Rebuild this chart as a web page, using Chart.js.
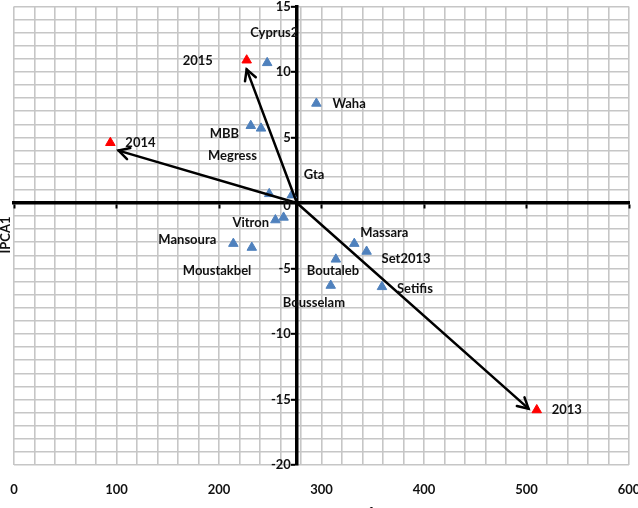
<!DOCTYPE html>
<html><head><meta charset="utf-8">
<script src="https://cdn.jsdelivr.net/npm/chart.js@4.4.1/dist/chart.umd.min.js"></script>
<style>html,body{margin:0;padding:0;overflow:hidden;background:#fff}#wrap{width:638px;height:524px;position:relative}</style>
</head><body><div id="wrap"><canvas id="c" width="638" height="524"></canvas></div>
<script>
// ---- data ----
const siteNames = ['Cyprus2','Waha','MBB','Megress','','Gta','Vitron','','Mansoura','Moustakbel','Massara','Set2013','Boutaleb','Bousselam','Setifis'];
const siteX = [247, 295, 231, 241, 249, 271, 255, 263, 214, 232, 332, 344, 314, 309, 359];
const siteY = [10.7, 7.6, 5.9, 5.7, 0.7, 0.6, -1.3, -1.1, -3.1, -3.4, -3.1, -3.7, -4.3, -6.3, -6.4];
const yearNames = ['2015','2014','2013'];
const yearX = [227, 94, 510];
const yearY = [10.9, 4.6, -15.8];
const arrowTipX = [227, 102, 502];
const arrowTipY = [10.2, 4.0, -15.7];
const originX = 276, originY = 0;
const xTickLabels = [0, 100, 200, 300, 400, 500, 600];
const yTickLabels = [15, 10, 5, 0, -5, -10, -15, -20];
const yTitle = 'IPCA1';
const xTitle = "Nombre d'épis/m²";

// ---- label placement (pixel offsets from points, style only) ----
const siteLabelDx = [-17, 16, -41, -53, 0, 12, -43, 0, -75, -69, 6, 15, -29, -48, 15];
const siteLabelDy = [-30, 0, 8, 27, 0, -20, 3, 0, -4, 23, -11, 7, 11, 17, 2];
const yearLabelDx = [-64, 15, 15];
const yearLabelDy = [1, 0, 0];

const FONT = 'bold 13px Lato, "Open Sans", sans-serif';

const overlay = {
  id: 'overlay',
  afterDatasetsDraw(chart) {
    const ctx = chart.ctx, xs = chart.scales.x, ys = chart.scales.y;
    ctx.save();
    // arrows
    ctx.strokeStyle = '#000'; ctx.lineWidth = 2.5; ctx.lineCap = 'round';
    const ox = xs.getPixelForValue(originX), oy = ys.getPixelForValue(originY);
    for (let i = 0; i < arrowTipX.length; i++) {
      const tx = xs.getPixelForValue(arrowTipX[i]), ty = ys.getPixelForValue(arrowTipY[i]);
      ctx.beginPath(); ctx.moveTo(ox, oy); ctx.lineTo(tx, ty); ctx.stroke();
      const a = Math.atan2(ty - oy, tx - ox), L = 12, w = 0.5;
      ctx.beginPath();
      ctx.moveTo(tx - L * Math.cos(a - w), ty - L * Math.sin(a - w));
      ctx.lineTo(tx, ty);
      ctx.lineTo(tx - L * Math.cos(a + w), ty - L * Math.sin(a + w));
      ctx.stroke();
    }
    // y tick labels, left of the crossing axis
    ctx.fillStyle = '#111'; ctx.font = FONT; ctx.textAlign = 'right'; ctx.textBaseline = 'middle';
    yTickLabels.forEach(v => ctx.fillText(String(v), ox - 6, ys.getPixelForValue(v) + (v === 0 ? 3 : 0)));
    // labels
    ctx.textAlign = 'left';
    siteNames.forEach((n, i) => {
      if (!n) return;
      ctx.fillText(n, xs.getPixelForValue(siteX[i]) + siteLabelDx[i], ys.getPixelForValue(siteY[i]) + siteLabelDy[i]);
    });
    yearNames.forEach((n, i) => {
      ctx.fillText(n, xs.getPixelForValue(yearX[i]) + yearLabelDx[i], ys.getPixelForValue(yearY[i]) + yearLabelDy[i]);
    });
    // axis titles
    ctx.textAlign = 'center';
    ctx.fillText(xTitle, (chart.chartArea.left + chart.chartArea.right) / 2, 514);
    ctx.translate(6, 235); ctx.rotate(-Math.PI / 2);
    ctx.fillText(yTitle, 0, 0);
    ctx.restore();
  }
};

new Chart(document.getElementById('c'), {
  type: 'scatter',
  data: {
    datasets: [
      { label: 'sites', data: siteX.map((x, i) => ({x, y: siteY[i]})), pointStyle: 'triangle', radius: 5.5, backgroundColor: '#4F81BD', borderColor: '#4F81BD', borderWidth: 1 },
      { label: 'years', data: yearX.map((x, i) => ({x, y: yearY[i]})), pointStyle: 'triangle', radius: 5.5, backgroundColor: '#FF0000', borderColor: '#FF0000', borderWidth: 1 }
    ]
  },
  options: {
    responsive: false, animation: false, devicePixelRatio: 1,
    layout: { padding: { left: 14, right: 9, top: 6, bottom: 19 } },
    plugins: { legend: { display: false }, tooltip: { enabled: false } },
    scales: {
      x: {
        type: 'linear', position: 'bottom', min: 0, max: 600,
        afterFit: s => { s.height = 40; s.paddingLeft = 0; s.paddingRight = 0; },
        border: { display: false },
        grid: { color: '#c6c6c6', lineWidth: 1.6, drawTicks: false },
        ticks: { stepSize: 20, autoSkip: false, maxRotation: 0, padding: 17, color: '#111', font: { family: 'Lato', weight: 'bold', size: 13 },
          callback: v => xTickLabels.includes(v) ? String(v) : '' }
      },
      x2: {
        type: 'linear', position: { y: 0 }, min: 0, max: 600,
        afterFit: s => { s.paddingLeft = 0; s.paddingRight = 0; s.paddingTop = 0; s.paddingBottom = 0; },
        border: { display: true, color: '#000', width: 3.5 },
        grid: { drawOnChartArea: false, drawTicks: true, tickLength: 4, tickColor: '#000', tickWidth: 2 },
        ticks: { stepSize: 100, display: false }
      },
      y: {
        type: 'linear', position: { x: originX }, min: -20, max: 15,
        afterFit: s => { s.paddingLeft = 0; s.paddingRight = 0; s.paddingTop = 0; s.paddingBottom = 0; },
        border: { display: true, color: '#000', width: 3.5 },
        grid: { color: '#c6c6c6', lineWidth: 1.6, drawTicks: true, tickLength: 4,
          tickColor: c => (c.tick && yTickLabels.includes(c.tick.value)) ? '#000' : 'rgba(0,0,0,0)', tickWidth: 2 },
        ticks: { stepSize: 1, autoSkip: false, display: false }
      }
    }
  },
  plugins: [overlay]
});
</script></body></html>
